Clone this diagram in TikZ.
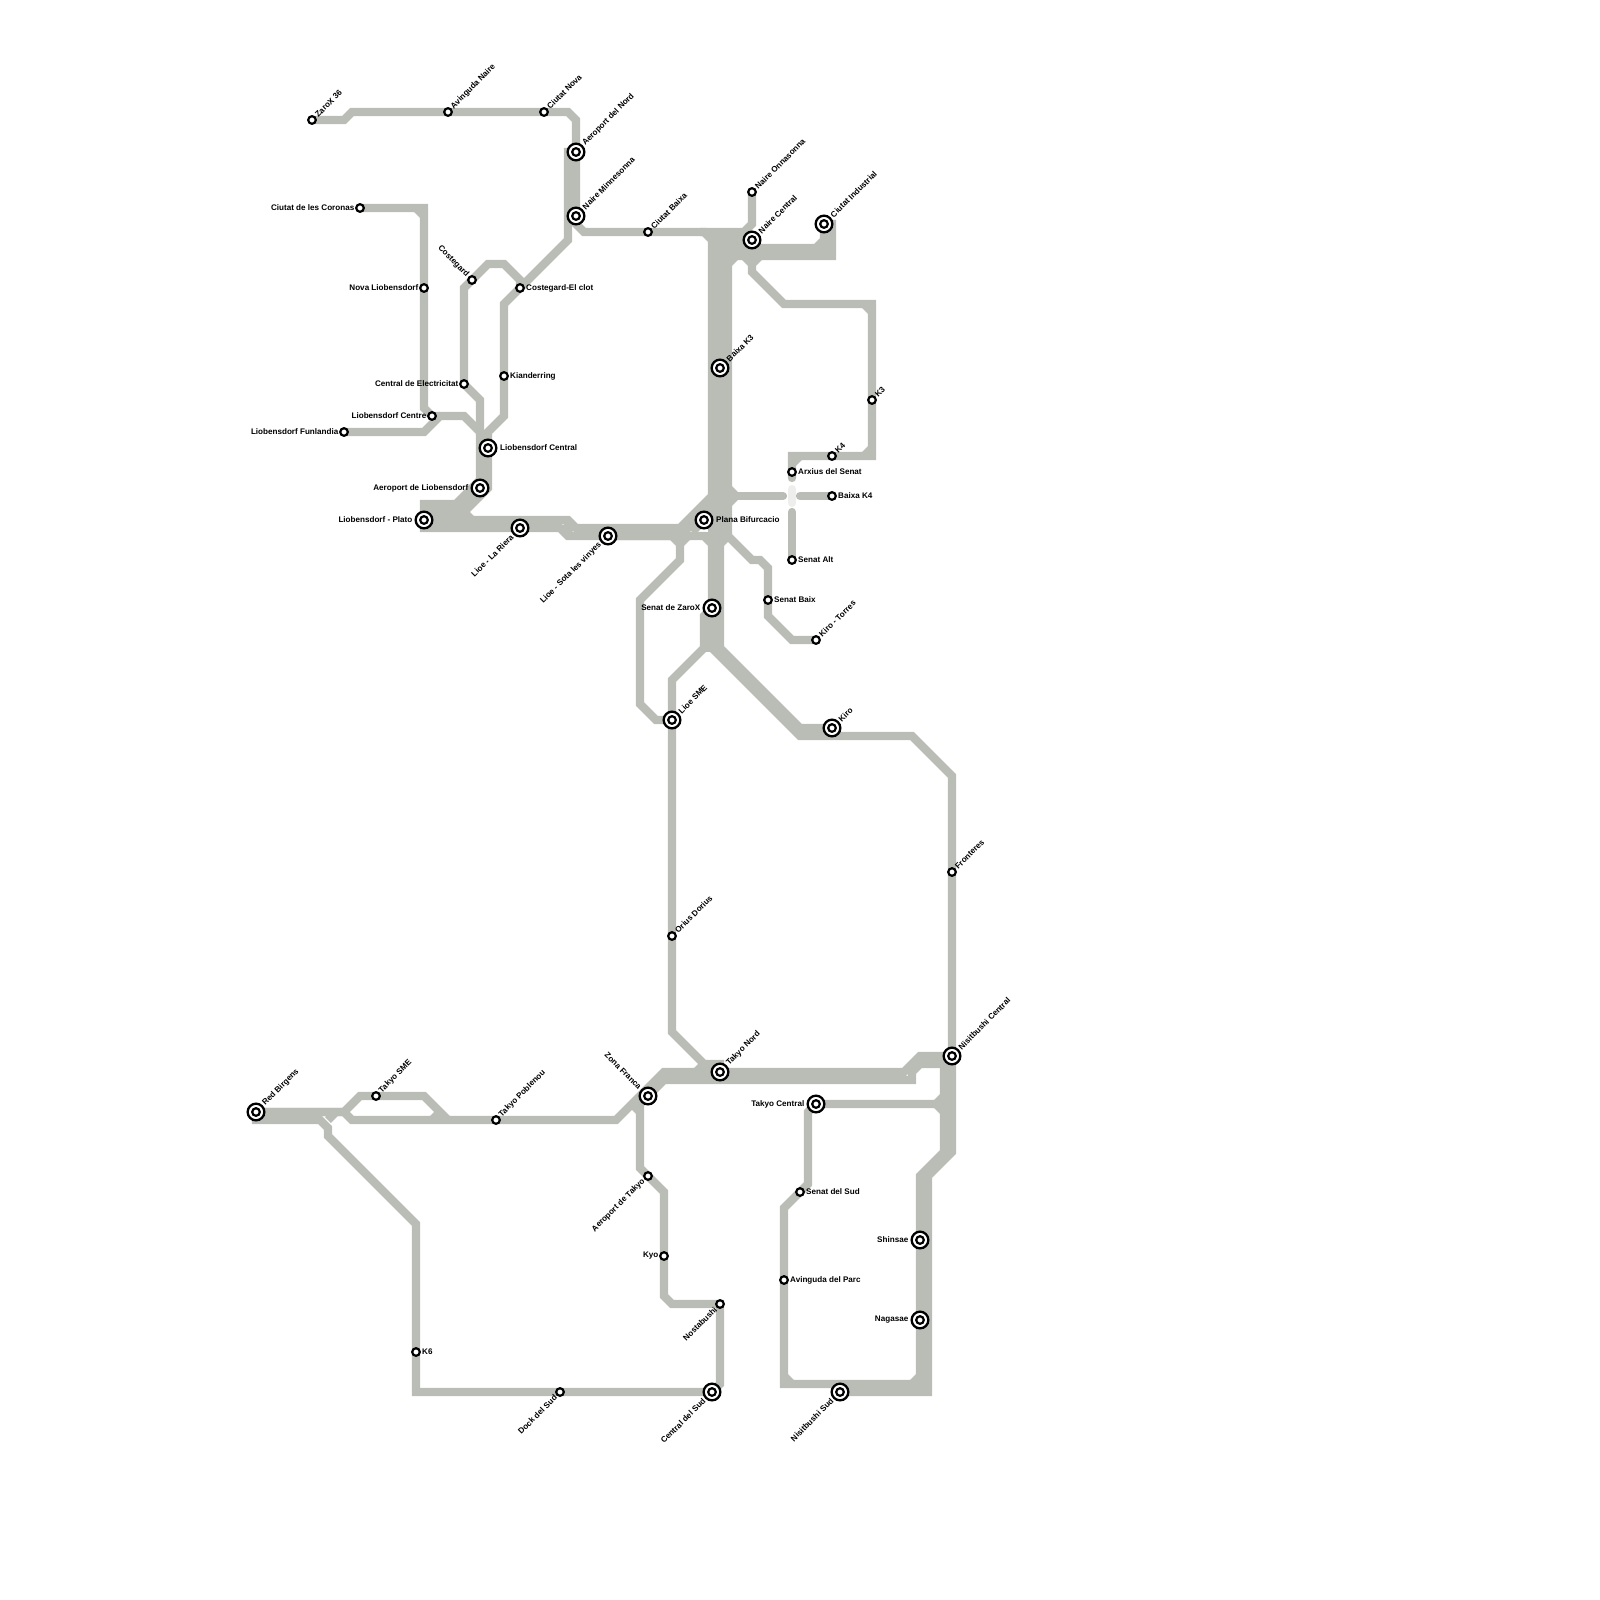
\documentclass[tikz,border=0pt]{standalone}
\usepackage{fontspec}
\setmainfont{Liberation Sans}
\usetikzlibrary{backgrounds}
\definecolor{trackgray}{HTML}{BABDB6}
\definecolor{palegray}{HTML}{EEEEEC}
\begin{document}
\begin{tikzpicture}[x=1pt,y=-1pt,
stn/.style={circle,draw=black,fill=white,line width=2.2pt,minimum size=7.6pt,inner sep=0pt},
hub/.style={circle,draw=black,fill=white,line width=2.3pt,minimum size=16.7pt,inner sep=0pt,
  path picture={\draw[line width=2.2pt] (path picture bounding box.center) circle (3.8pt);}},
lbl/.style={font=\bfseries\fontsize{8.1}{9}\selectfont,inner sep=0pt},
lne/.style={lbl,anchor=west,rotate=45,xshift=#1},
lsw/.style={lbl,anchor=east,rotate=45,xshift=-#1},
lnw/.style={lbl,anchor=east,rotate=-45,xshift=-#1},
lr/.style={lbl,anchor=west,xshift=#1},
ll/.style={lbl,anchor=east,xshift=-#1},
track/.style={draw=trackgray,line width=8.3pt},
stub/.style={track,line cap=round},
pale/.style={draw=palegray,line width=8pt,line cap=round}]
\useasboundingbox (0,0) rectangle (1600,1600);
\node[stn] (zarox) at (312,120) {}; \node[lne=6pt] (zaroxl) at (zarox) {ZaroX 36};
\node[stn] (avnaire) at (448,112) {}; \node[lne=6pt] (avnairel) at (avnaire) {Avinguda Naire};
\node[stn] (ciutatnova) at (544,112) {}; \node[lne=6pt] (ciutatnoval) at (ciutatnova) {Ciutat Nova};
\node[hub] (aernord) at (576,152) {}; \node[lne=11pt] (aernordl) at (aernord) {Aeroport del Nord};
\node[hub] (nairemin) at (576,216) {}; \node[lne=11pt] (naireminl) at (nairemin) {Naire Minnesonna};
\node[stn] (ciutatbaixa) at (648,232) {}; \node[lne=6pt] (ciutatbaixal) at (ciutatbaixa) {Ciutat Baixa};
\node[stn] (naireonna) at (752,192) {}; \node[lne=6pt] (naireonnal) at (naireonna) {Naire Onnasonna};
\node[hub] (nairecentral) at (752,240) {}; \node[lne=11pt] (nairecentrall) at (nairecentral) {Naire Central};
\node[hub] (ciutatind) at (824,224) {}; \node[lne=11pt] (ciutatindl) at (ciutatind) {Ciutat Industrial};
\node[hub] (baixak3) at (720,368) {}; \node[lne=11pt] (baixak3l) at (baixak3) {Baixa K3};
\node[stn] (k3) at (872,400) {}; \node[lne=6pt] (k3l) at (k3) {K3};
\node[stn] (k4) at (832,456) {}; \node[lne=6pt] (k4l) at (k4) {K4};
\node[stn] (arxius) at (792,472) {}; \node[lr=6pt] (arxiusl) at (arxius) {Arxius del Senat};
\node[stn] (baixak4) at (832,496) {}; \node[lr=6pt] (baixak4l) at (baixak4) {Baixa K4};
\node[hub] (plana) at (704,520) {}; \node[lr=12pt] (planal) at (plana) {Plana Bifurcacio};
\node[stn] (senatalt) at (792,560) {}; \node[lr=6pt] (senataltl) at (senatalt) {Senat Alt};
\node[stn] (senatbaix) at (768,600) {}; \node[lr=6pt] (senatbaixl) at (senatbaix) {Senat Baix};
\node[hub] (senatzarox) at (712,608) {}; \node[ll=11.5pt] (senatzaroxl) at (senatzarox) {Senat de ZaroX};
\node[stn] (kirotorres) at (816,640) {}; \node[lne=6pt] (kirotorresl) at (kirotorres) {Kiro - Torres};
\node[hub] (lioesme) at (672,720) {}; \node[lne=11pt] (lioesmel) at (lioesme) {Lioe SME};
\node[hub] (kiro) at (832,728) {}; \node[lne=11pt] (kirol) at (kiro) {Kiro};
\node[stn] (orius) at (672,936) {}; \node[lne=6pt] (oriusl) at (orius) {Orius Dorius};
\node[stn] (fronteres) at (952,872) {}; \node[lne=6pt] (frontheresl) at (fronteres) {Fronteres};
\node[stn] (coronas) at (360,208) {}; \node[ll=5.5pt] (coronasl) at (coronas) {Ciutat de les Coronas};
\node[stn] (novalio) at (424,288) {}; \node[ll=5.5pt] (noval) at (novalio) {Nova Liobensdorf};
\node[stn] (costegard) at (472,280) {}; \node[lnw=6pt] (costegardl) at (costegard) {Costegard};
\node[stn] (clot) at (520,288) {}; \node[lr=6pt] (clotl) at (clot) {Costegard-El clot};
\node[stn] (elec) at (464,384) {}; \node[ll=5.5pt] (elecl) at (elec) {Central de Electricitat};
\node[stn] (kianderring) at (504,376) {}; \node[lr=6pt] (kianderringl) at (kianderring) {Kianderring};
\node[stn] (liocentre) at (432,416) {}; \node[ll=5.5pt] (liocentrel) at (liocentre) {Liobensdorf Centre};
\node[stn] (funlandia) at (344,432) {}; \node[ll=5.5pt] (funlandial) at (funlandia) {Liobensdorf Funlandia};
\node[hub] (liocentral) at (488,448) {}; \node[lr=12pt] (liocentrall) at (liocentral) {Liobensdorf Central};
\node[hub] (aerlio) at (480,488) {}; \node[ll=11.5pt] (aerliol) at (aerlio) {Aeroport de Liobensdorf};
\node[hub] (plato) at (424,520) {}; \node[ll=11.5pt] (platol) at (plato) {Liobensdorf - Plato};
\node[hub] (lariera) at (520,528) {}; \node[lsw=11pt] (larieral) at (lariera) {Lioe - La Riera};
\node[hub] (sota) at (608,536) {}; \node[lsw=11pt] (sotal) at (sota) {Lioe - Sota les vinyes};
\node[hub] (redb) at (256,1112) {}; \node[lne=11pt] (redbl) at (redb) {Red Birgens};
\node[stn] (takyosme) at (376,1096) {}; \node[lne=6pt] (takyosmel) at (takyosme) {Takyo SME};
\node[stn] (poblenou) at (496,1120) {}; \node[lne=6pt] (poblenoul) at (poblenou) {Takyo Poblenou};
\node[stn] (k6) at (416,1352) {}; \node[lr=6pt] (k6l) at (k6) {K6};
\node[stn] (dock) at (560,1392) {}; \node[lsw=6pt] (dockl) at (dock) {Dock del Sud};
\node[hub] (centralsud) at (712,1392) {}; \node[lsw=11pt] (centralsudl) at (centralsud) {Central del Sud};
\node[hub] (zonafranca) at (648,1096) {}; \node[lnw=11pt] (zonafrancal) at (zonafranca) {Zona Franca};
\node[hub] (takyonord) at (720,1072) {}; \node[lne=11pt] (takyonordl) at (takyonord) {Takyo Nord};
\node[hub] (niscentral) at (952,1056) {}; \node[lne=11pt] (niscentrall) at (niscentral) {Nisitbushi Central};
\node[hub] (takyocentral) at (816,1104) {}; \node[ll=11.5pt] (takyocentrall) at (takyocentral) {Takyo Central};
\node[stn] (aertakyo) at (648,1176) {}; \node[lsw=6pt] (aertakyol) at (aertakyo) {Aeroport de Takyo};
\node[stn] (senatsud) at (800,1192) {}; \node[lr=6pt] (senatsudl) at (senatsud) {Senat del Sud};
\node[stn] (kyo) at (664,1256) {}; \node[ll=5.5pt] (kyol) at (kyo) {Kyo};
\node[stn] (nostabushi) at (720,1304) {}; \node[lsw=6pt] (nostabushil) at (nostabushi) {Nostabushi};
\node[stn] (avparc) at (784,1280) {}; \node[lr=6pt] (avparcl) at (avparc) {Avinguda del Parc};
\node[hub] (shinsae) at (920,1240) {}; \node[ll=11.5pt] (shinsael) at (shinsae) {Shinsae};
\node[hub] (nagasae) at (920,1320) {}; \node[ll=11.5pt] (nagasael) at (nagasae) {Nagasae};
\node[hub] (nissud) at (840,1392) {}; \node[lsw=11pt] (nissudl) at (nissud) {Nisitbushi Sud};
\begin{scope}[on background layer]
\draw[track] (zarox.center)--(344,120)--(352,112)--(avnaire.center)--(ciutatnova.center)--(568,112)--(576,120)--(aernord.center)--(nairemin.center)--(576,224)--(584,232)--(ciutatbaixa.center)--(704,232)--(712,240)--(712,496)--(680,528)--(576,528)--(568,520)--(plato.center);
\draw[track] (aernord.center)--(568,152)--(568,240)--(clot.center)--(504,304)--(kianderring.center)--(504,416)--(488,432)--(liocentral.center)--(488,488)--(464,512)--(424,512);
\draw[track] (coronas.center)--(424,208)--(novalio.center)--(424,408)--(liocentre.center)--(440,416);
\draw[track] (funlandia.center)--(424,432)--(440,416)--(464,416)--(480,432)--(480,480)--(456,504)--(424,504)--(plato.center);
\draw[track] (aerlio.center)--(480,478);
\draw[track] (clot.center)--(520,280)--(504,264)--(488,264)--(costegard.center)--(464,288)--(elec.center)--(480,400)--(480,432);
\draw[track] (plato.center)--(424,528)--(lariera.center)--(560,528)--(568,536)--(sota.center)--(672,536)--(680,544)--(680,560)--(640,600)--(640,704)--(656,720)--(lioesme.center)--(orius.center)--(672,1032)--(704,1064)--(720,1064)--(takyonord.center);
\draw[track] (sota.center)--(704,536)--(712,544)--(senatzarox.center)--(712,648)--(800,736)--(912,736)--(952,776)--(fronteres.center)--(niscentral.center)--(952,1152)--(928,1176)--(928,1392)--(nissud.center);
\draw[track] (nairecentral.center)--(720,240)--(720,648)--(800,728)--(kiro.center);
\draw[track] (lioesme.center)--(672,680)--(704,648)--(704,616)--(senatzarox.center);
\draw[track] (ciutatind.center)--(832,224)--(832,256)--(728,256)--(728,536)--(752,560)--(760,560)--(768,568)--(senatbaix.center)--(768,616)--(792,640)--(kirotorres.center);
\draw[track] (ciutatind.center)--(824,240)--(816,248)--(720,248);
\draw[track] (naireonna.center)--(752,224)--(744,232)--(700,232);
\draw[track] (692,532)--(plana.center)--(716,508);
\draw[track] (680,536)--(720,496);
\draw[stub] (nairecentral.center)--(752,272)--(784,304)--(872,304)--(k3.center)--(872,456)--(k4.center)--(792,456)--(arxius.center)--(792,478);
\draw[stub] (728,496)--(783,496);
\draw[stub] (baixak4.center)--(800,496);
\draw[stub] (senatalt.center)--(792,512);
\draw[pale] (792,489)--(792,503);
\draw[track] (redb.center)--(344,1112)--(360,1096)--(takyosme.center)--(424,1096)--(448,1120);
\draw[track] (redb.center)--(344,1112)--(352,1120)--(poblenou.center)--(616,1120)--(664,1072)--(takyonord.center)--(904,1072)--(920,1056)--(niscentral.center);
\draw[track] (redb.center)--(256,1120)--(320,1120)--(328,1128)--(328,1136)--(416,1224)--(k6.center)--(416,1392)--(dock.center)--(centralsud.center);
\draw[track] (zonafranca.center)--(664,1080)--(912,1080)--(912,1072)--(920,1064)--(944,1064)--(944,1152)--(920,1176)--(shinsae.center)--(nagasae.center)--(920,1384)--(784,1384)--(avparc.center)--(784,1208)--(senatsud.center)--(808,1184)--(808,1112)--(takyocentral.center)--(944,1104);
\draw[track] (zonafranca.center)--(640,1104)--(640,1168)--(aertakyo.center)--(664,1192)--(kyo.center)--(664,1296)--(672,1304)--(nostabushi.center)--(720,1384)--(centralsud.center);
\foreach \xa/\ya/\xb/\yb in {416/208/424/216,864/304/872/312,864/456/872/448,792/464/800/456,728/264/736/256,744/256/752/264,752/264/760/256,728/488/736/496,728/504/736/496,720/544/728/536,680/544/688/536,704/648/712/648,464/512/472/520,632/1104/640/1112,696/1072/704/1064,936/1104/944/1096,936/1104/944/1112,328/1120/336/1112,432/1120/440/1112,912/1384/920/1376,784/1376/792/1384,476/492/460/508,564/524/572/532,828/230/828/254,716/232/716/244,812/248/832/248,700/536/724/536,712/490/712/544,440/508/468/508}
  \draw[track] (\xa,\ya)--(\xb,\yb);
\end{scope}
\end{tikzpicture}
\end{document}
